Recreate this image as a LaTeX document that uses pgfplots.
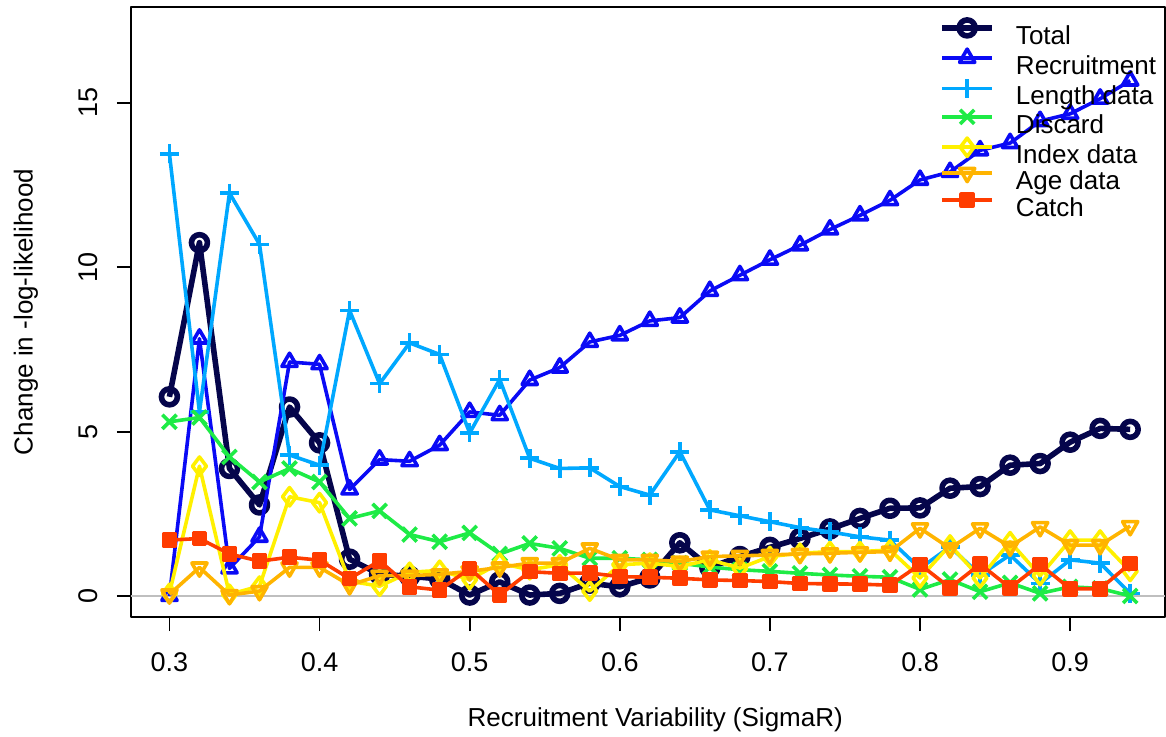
\documentclass[border=0pt]{standalone}
\usepackage{pgfplots}
\pgfplotsset{compat=1.18}
\usepackage{pgfplotstable}
\usepackage{fontspec}
\setmainfont{Liberation Sans}

\definecolor{cTotal}{RGB}{5,5,75}
\definecolor{cRecr}{RGB}{10,10,245}
\definecolor{cLen}{RGB}{0,168,255}
\definecolor{cDisc}{RGB}{30,235,70}
\definecolor{cIndex}{RGB}{255,240,0}
\definecolor{cAge}{RGB}{255,180,0}
\definecolor{cCatch}{RGB}{255,60,0}

% columns: sigma, total, recruitment, length, discard, index, age, catch
\pgfplotstableread{
sig   tot    rec    len    dis   idx   age   cat
0.30  6.06   0.00  13.45   5.30  0.08  0.05  1.70
0.32 10.75   7.83   5.60   5.43  3.95  0.87  1.75
0.34  3.88   0.84  12.26   4.23  0.05  0.03  1.28
0.36  2.77   1.80  10.70   3.47  0.30  0.15  1.06
0.38  5.75   7.12   4.29   3.88  3.02  0.87  1.18
0.40  4.66   7.05   3.98   3.47  2.84  0.87  1.09
0.42  1.12   3.24   8.69   2.36  0.45  0.33  0.53
0.44  0.66   4.15   6.46   2.59  0.30  0.62  1.07
0.46  0.60   4.10   7.70   1.87  0.72  0.62  0.28
0.48  0.52   4.59   7.35   1.65  0.78  0.66  0.18
0.50  0.03   5.60   4.96   1.92  0.50  0.75  0.84
0.52  0.43   5.50   6.59   1.28  1.00  0.87  0.03
0.54  0.03   6.57   4.19   1.60  0.80  1.00  0.74
0.56  0.08   6.95   3.88   1.45  0.95  1.00  0.69
0.58  0.39   7.73   3.90   1.15  0.15  1.45  0.70
0.60  0.28   7.93   3.33   1.15  0.95  1.10  0.59
0.62  0.55   8.37   3.07   1.10  1.00  1.10  0.57
0.64  1.62   8.47   4.39   1.00  0.90  1.05  0.54
0.66  0.87   9.28   2.62   0.88  1.10  1.20  0.49
0.68  1.20   9.76   2.44   0.80  0.85  1.22  0.47
0.70  1.48  10.23   2.26   0.75  1.20  1.25  0.44
0.72  1.75  10.67   2.08   0.69  1.30  1.28  0.38
0.74  2.04  11.15   1.95   0.64  1.35  1.30  0.37
0.76  2.36  11.58   1.80   0.60  1.35  1.33  0.36
0.78  2.67  12.04   1.70   0.57  1.40  1.35  0.33
0.80  2.68  12.66   0.84   0.20  0.55  2.06  0.96
0.82  3.28  12.90   1.50   0.50  1.55  1.45  0.25
0.84  3.33  13.56   0.64   0.13  0.55  2.06  0.97
0.86  3.98  13.78   1.25   0.40  1.65  1.50  0.25
0.88  4.03  14.45   0.38   0.08  0.62  2.10  0.96
0.90  4.68  14.67   1.10   0.28  1.70  1.55  0.22
0.92  5.10  15.13   1.00   0.23  1.70  1.55  0.22
0.94  5.07  15.68   0.08   0.00  0.75  2.13  0.99
}\nll

\begin{document}
\begin{tikzpicture}[line cap=round, line join=round]
\begin{axis}[
  scale only axis,
  width=517pt, height=305pt,
  xmin=0.2744, xmax=0.9632,
  ymin=-0.639, ymax=17.92,
  clip mode=individual,
  xtick={0.3,0.4,0.5,0.6,0.7,0.8,0.9},
  xticklabels={},
  ytick={0,5,10,15},
  tick pos=left,
  tick align=outside,
  major tick length=7pt,
  every tick/.style={black, line width=0.9pt},
  axis line style={line width=1pt},
  /pgf/number format/assume math mode=true,
  tick label style={font=\fontsize{13.5}{15}\selectfont},
  yticklabel style={rotate=90, anchor=south, inner sep=0pt},
  yticklabel shift=9.5pt,
  xlabel={Recruitment Variability (SigmaR)},
  ylabel={Change in -log-likelihood},
  label style={font=\fontsize{13}{15}\selectfont},
  xlabel style={at={(axis description cs:0.507,0)}, anchor=center, yshift=-51.5pt},
  ylabel style={at={(axis description cs:0,0.5)}, anchor=center, yshift=52.5pt},
  legend cell align=left,
  legend image code/.code={\draw[mark repeat=2, mark phase=2] plot coordinates {(0pt,4.6pt) (12.5pt,4.6pt) (25pt,4.6pt)};},
  legend style={at={(rel axis cs:0.7814,0.9795)}, anchor=north west, draw=none, fill=none,
    inner sep=0pt, row sep=0pt, font=\fontsize{13}{15}\selectfont,
    nodes={inner sep=0pt, text height=9.5pt, text depth=2.5pt},
    /tikz/every odd column/.append style={column sep=10.5pt}},
]
\addplot[gray!50, line width=0.8pt, forget plot] coordinates {(0.2744,0) (0.9632,0)};

\addplot[cTotal, line width=2.8pt, mark=o, mark size=4pt] table[x=sig, y=tot] {\nll};
\addplot[cRecr, line width=1.8pt, mark=triangle, mark size=4.4pt] table[x=sig, y=rec] {\nll};
\addplot[cLen, line width=1.8pt, mark=+, mark size=4.75pt] table[x=sig, y=len] {\nll};
\addplot[cDisc, line width=1.8pt, mark=x, mark size=5pt] table[x=sig, y=dis] {\nll};
\addplot[cIndex, line width=1.8pt, mark=diamond, mark size=4.6pt] table[x=sig, y=idx] {\nll};
\addplot[cAge, line width=1.8pt, mark=triangle, mark size=4.4pt, mark options={rotate=180}] table[x=sig, y=age] {\nll};
\addplot[cCatch, line width=1.8pt, mark=square*, mark size=3pt] table[x=sig, y=cat] {\nll};

\legend{Total, Recruitment, Length data, Discard, Index data, Age data, Catch}

% x tick labels, set below the ticks as in the original
\pgfplotsinvokeforeach{0.3,0.4,0.5,0.6,0.7,0.8,0.9}{
  \node[font=\fontsize{13.5}{15}\selectfont, inner sep=0pt, anchor=center]
    at ([yshift=-22.5pt]axis cs:#1,-0.639) {#1};
}
\end{axis}
\pgfresetboundingbox
\path[use as bounding box] (-65.5pt,-59.5pt) rectangle (517.5pt,308.5pt);
\end{tikzpicture}
\end{document}
